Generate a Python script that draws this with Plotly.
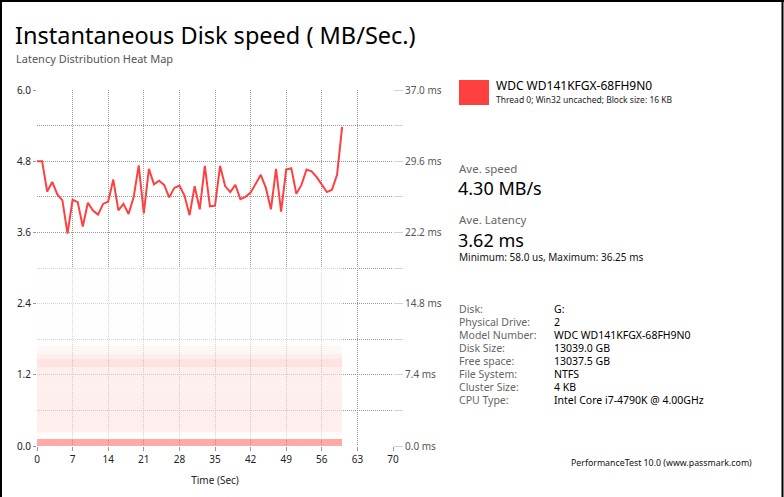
import plotly.graph_objects as go

# time axis (seconds) and read speed (MB/s) per second
seconds = list(range(0, 61))
speed_mbs = [
    4.80, 4.80, 4.29, 4.45, 4.24, 4.14, 3.58, 4.15, 4.11, 3.70,
    4.10, 3.97, 3.90, 4.08, 4.12, 4.49, 3.97, 4.08, 3.91, 4.19,
    4.73, 3.92, 4.67, 4.41, 4.47, 4.40, 4.19, 4.35, 4.39, 4.22,
    3.89, 4.38, 3.99, 4.72, 4.04, 4.05, 4.72, 4.38, 4.28, 4.40,
    4.16, 4.20, 4.27, 4.42, 4.57, 4.35, 3.99, 4.67, 3.95, 4.66,
    4.68, 4.25, 4.40, 4.66, 4.63, 4.53, 4.41, 4.28, 4.32, 4.57,
    5.38,
]

# latency heat map: bucket edges (ms) and share of IOs per bucket (0..1)
latency_edges_ms = [0.0, 0.74, 1.5, 3.0, 5.5, 7.0, 8.2, 9.0, 9.6, 10.4, 18.5]
latency_levels = [1.0, 0.04, 0.18, 0.2, 0.17, 0.2, 0.32, 0.2, 0.1, 0.006]

speed_ticks = [0.0, 1.2, 2.4, 3.6, 4.8, 6.0]
latency_ticks = [0.0, 7.4, 14.8, 22.2, 29.6, 37.0]

disk_name = "WDC WD141KFGX-68FH9N0"
test_desc = "Thread 0; Win32 uncached; Block size: 16 KB"
info_labels = ["Disk:", "Physical Drive:", "Model Number:", "Disk Size:",
               "Free space:", "File System:", "Cluster Size:", "CPU Type:"]
info_values = ["G:", "2", "WDC WD141KFGX-68FH9N0", "13039.0 GB",
               "13037.5 GB", "NTFS", "4 KB", "Intel Core i7-4790K @ 4.00GHz"]

RED = "#ff4040"
GRID = "#9a9a9a"
DOTS = "1px,1px"
FONT = "Noto Sans"

# plot area in pixels, used to place the side panel text
PL, PR, PT, PB = 37, 393, 90, 446


def px(x):
    return (x - PL) / (PR - PL)


def py(y):
    return (PB - y) / (PB - PT)


fig = go.Figure()

fig.add_trace(
    go.Heatmap(
        x=seconds,
        y=latency_edges_ms,
        z=[[lvl] * (len(seconds) - 1) for lvl in latency_levels],
        colorscale=[[0, "#ffffff"], [1, "#ff7171"]],
        zmin=0,
        zmax=1,
        opacity=0.6,
        showscale=False,
        hoverinfo="skip",
        xaxis="x",
        yaxis="y",
    )
)

fig.add_trace(
    go.Scatter(
        x=seconds,
        y=speed_mbs,
        mode="lines",
        line=dict(color=RED, width=2),
        name=disk_name,
        xaxis="x",
        yaxis="y2",
    )
)

fig.update_layout(
    width=784,
    height=497,
    margin=dict(l=PL, r=784 - PR, t=PT, b=497 - PB),
    paper_bgcolor="white",
    plot_bgcolor="white",
    showlegend=False,
    font=dict(family=FONT, color="#000000"),
    xaxis=dict(
        range=[0, 70],
        tick0=0,
        dtick=7,
        showgrid=True,
        gridcolor=GRID,
        griddash=DOTS,
        gridwidth=1,
        zeroline=False,
        showline=False,
        ticks="outside",
        ticklen=4,
        tickcolor="#999999",
        tickfont=dict(size=10, color="#222222"),
        title=dict(text="Time (Sec)", font=dict(size=10, color="#222222"), standoff=11),
    ),
    yaxis=dict(
        range=[0, 37],
        side="right",
        tickvals=latency_ticks,
        ticktext=[f"{v:.1f} ms" for v in latency_ticks],
        showgrid=False,
        zeroline=False,
        showline=False,
        ticks="outside",
        ticklen=9,
        tickcolor="#d2d2d2",
        tickfont=dict(size=10, color="#555555"),
        minor=dict(dtick=3.7, tick0=0, ticks="outside", ticklen=9, tickcolor="#d2d2d2"),
    ),
    yaxis2=dict(
        range=[0, 6],
        overlaying="y",
        side="left",
        tickvals=speed_ticks,
        ticktext=[f"{v:.1f}" for v in speed_ticks],
        showgrid=True,
        gridcolor=GRID,
        griddash=DOTS,
        zeroline=False,
        showline=False,
        ticks="outside",
        ticklen=3,
        tickcolor="#999999",
        tickfont=dict(size=10, color="#222222"),
        minor=dict(dtick=0.6, tick0=0, showgrid=True, gridcolor=GRID, griddash=DOTS),
    ),
)

ann = []


def text(x, y, s, size, color="#000000", anchor="left"):
    ann.append(dict(
        x=px(x), y=py(y), xref="paper", yref="paper", text=s,
        showarrow=False, xanchor=anchor, yanchor="middle",
        font=dict(family=FONT, size=size, color=color),
    ))


text(13, 35, "Instantaneous Disk speed ( MB/Sec.)", 23.5)
text(14, 58, "Latency Distribution Heat Map", 11, "#555555")

text(494, 86, disk_name, 12)
text(494, 99, test_desc, 8.5, "#222222")

text(457, 168, "Ave. speed", 11.5, "#666666")
text(456, 188, "4.30 MB/s", 18)
text(457, 219, "Ave. Latency", 11.5, "#666666")
text(456, 240, "3.62 ms", 18)
text(457, 257, "Minimum: 58.0 us, Maximum: 36.25 ms", 10, "#111111")

for i, (lab, val) in enumerate(zip(info_labels, info_values)):
    text(457, 309 + i * 12.96, lab, 10.5, "#666666")
    text(552, 309 + i * 12.96, val, 10.5, "#000000")

text(661, 463, "PerformanceTest 10.0 (www.passmark.com)", 8.8, "#111111", anchor="center")

fig.update_layout(annotations=ann)

# legend swatch and window frame
fig.add_shape(type="rect", xref="paper", yref="paper",
              x0=px(459), x1=px(489), y0=py(80), y1=py(105),
              fillcolor=RED, line=dict(width=0))
for x0, y0, x1, y1 in [(1, 0, 1, 497), (0, 1, 784, 1), (782.5, 0, 782.5, 497)]:
    fig.add_shape(type="line", xref="paper", yref="paper",
                  x0=px(x0), x1=px(x1), y0=py(y0), y1=py(y1),
                  line=dict(color="#000000", width=2))

# the page body has a default 8px margin; drop it so the figure fills the window
fig.write_html(
    "out.html",
    config={"displayModeBar": False},
    post_script="document.body.style.margin='0';",
)
